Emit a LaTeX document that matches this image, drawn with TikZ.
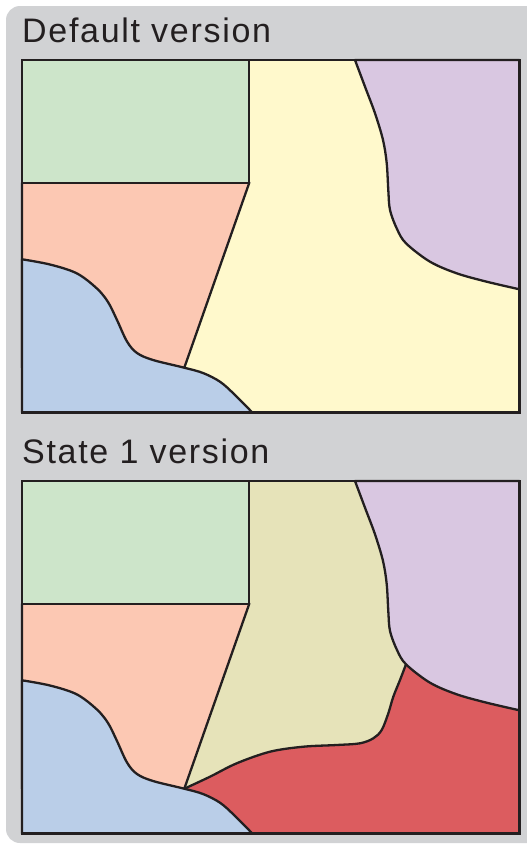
\documentclass[tikz,border=0pt]{standalone}
\usepackage{fontspec}
\setmainfont{Liberation Sans}[LetterSpace=5]
\usepackage{tikz}
\definecolor{bggray}{HTML}{D1D2D4}
\definecolor{outline}{HTML}{231F20}
\definecolor{greenR}{HTML}{CDE5CA}
\definecolor{salmonR}{HTML}{FCC8B3}
\definecolor{blueR}{HTML}{BACEE8}
\definecolor{yellowR}{HTML}{FFF9CC}
\definecolor{purpleR}{HTML}{D9C7E1}
\definecolor{oliveR}{HTML}{E6E3B9}
\definecolor{redR}{HTML}{DC5C5F}
\tikzstyle{region}=[draw=outline
,line width=2.3pt
,line join=round
]
\tikzstyle{frame} = [draw=outline, line width=2.8pt]
\tikzstyle{title} = [anchor=base west, inner sep=0pt, text=outline, font=\fontsize{34}{40}\selectfont]

\begin{document}
\begin{tikzpicture}[x=1pt,y=-1pt]
    \useasboundingbox (0,0) rectangle (527,846);
    % Grey card behind both maps
    \fill[bggray, rounded corners=14pt] (6,6) rectangle (545,843);

    % One map per state, the second shifted down
    \foreach \dy/\title/\mid in {0/Default version/yellowR, 421/State 1 version/oliveR}
    {
    \begin{scope}[yshift=-\dy pt]
        \node[title] (title\dy) at (22,42) {\title};
        \fill[\mid] (22,60) rectangle (519.5,412.5);
        \filldraw[region, fill=salmonR] (22,182.7) -- (249.3,182.7) -- (184.3,367.7) -- (22,367.7) -- cycle;
        \filldraw[region, fill=greenR] (22,60) rectangle (249.3,182.7);
        % only the second state has the red area
        \ifnum\dy>0
        \filldraw[region, fill=redR] (252.3,412.5) -- (184.3,367.7) -- plot[smooth, tension=0.55] coordinates {(184.3,367.7) (210,355.7) (236.7,342.3) (270,330.7) (303.3,325.7) (336.7,324) (360,322.3) (373.3,317.3) (381.7,309) (388.3,292.3) (393.3,275.7) (400,259) (406,243.3)} -- (519.5,243.3) -- (519.5,412.5) -- cycle;
        \fi
        \filldraw[region, fill=blueR] (22,412.5) -- plot[smooth, tension=0.55] coordinates {(22,259.3) (50,264.5) (76.7,273.3) (96.7,288.3) (108,302) (117,320) (127,341.5) (137,353) (153,360) (184.3,367.7) (203,373) (220,381.7) (234,394) (252.3,412.5)} -- cycle;
        \filldraw[region, fill=purpleR] (519.5,60) -- plot[smooth, tension=0.55] coordinates {(355,60) (365,86.7) (375,113.3) (383,140) (386.7,163) (388.3,190) (390,210) (397,229) (406,243.3) (430,261.7) (456.7,273.3) (486.7,281.7) (519.5,289.3)} -- cycle;
        \draw[frame] (22,60) rectangle (519.5,412.5);
    \end{scope}
    }
\end{tikzpicture}
\end{document}
